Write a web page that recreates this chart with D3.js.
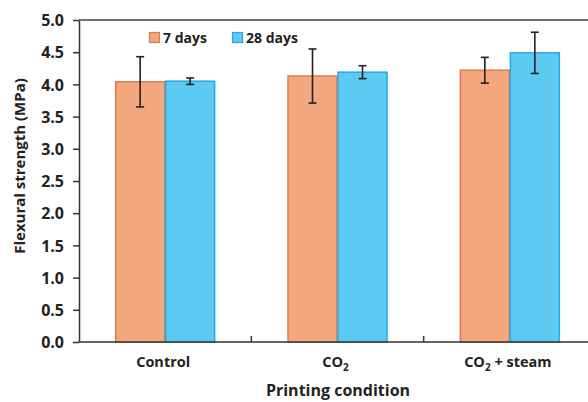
<!DOCTYPE html>
<html>
<head>
<meta charset="utf-8">
<script src="https://cdn.jsdelivr.net/npm/d3@7"></script>
<style>
  body { margin: 0; background: #fff; }
  svg { display: block; }
</style>
</head>
<body>
<svg id="chart" width="588" height="402"></svg>
<script>
// data
const categories = ["Control", "CO2", "CO2 + steam"];
const seriesNames = ["7 days", "28 days"];
const mean7 = [4.04, 4.13, 4.22];
const err7 = [0.39, 0.42, 0.20];
const mean28 = [4.05, 4.19, 4.49];
const err28 = [0.05, 0.10, 0.32];
const yTicks = [0, 0.5, 1, 1.5, 2, 2.5, 3, 3.5, 4, 4.5, 5];

const fills = ["#f3a880", "#5ccaf2"];
const strokes = ["#e07a4c", "#27a9e1"];
const font = "'Open Sans', 'Noto Sans', sans-serif";

const svg = d3.select("#chart");
const margin = { left: 79, top: 20, right: -8, bottom: 60 };
const W = 588, H = 402;

const x = d3.scaleBand()
  .domain(categories)
  .range([margin.left, W - margin.right])
  .paddingInner(0).paddingOuter(0);

const x1 = d3.scaleBand()
  .domain(seriesNames)
  .range([0, 100]);

const y = d3.scaleLinear()
  .domain([0, 5])
  .range([H - margin.bottom, margin.top]);

const rows = categories.map((c, i) => ({
  cat: c,
  vals: [
    { s: 0, name: seriesNames[0], v: mean7[i], e: err7[i] },
    { s: 1, name: seriesNames[1], v: mean28[i], e: err28[i] }
  ]
}));

// bars
const groups = svg.append("g")
  .selectAll("g")
  .data(rows)
  .join("g")
  .attr("transform", d => `translate(${x(d.cat) + (x.bandwidth() - 100) / 2}, 0)`);

groups.selectAll("rect")
  .data(d => d.vals)
  .join("rect")
  .attr("x", d => x1(d.name) + 0.5)
  .attr("y", d => y(d.v))
  .attr("width", x1.bandwidth() - 1)
  .attr("height", d => y(0) - y(d.v))
  .attr("fill", d => fills[d.s])
  .attr("stroke", d => strokes[d.s])
  .attr("stroke-width", 1.5);

// error bars
const eb = groups.selectAll("g.err")
  .data(d => d.vals)
  .join("g")
  .attr("class", "err")
  .attr("stroke", "#222")
  .attr("stroke-width", 1.6);

eb.append("line")
  .attr("x1", d => x1(d.name) + x1.bandwidth() / 2)
  .attr("x2", d => x1(d.name) + x1.bandwidth() / 2)
  .attr("y1", d => y(d.v + d.e))
  .attr("y2", d => y(d.v - d.e));
eb.append("line")
  .attr("x1", d => x1(d.name) + x1.bandwidth() / 2 - 4)
  .attr("x2", d => x1(d.name) + x1.bandwidth() / 2 + 4)
  .attr("y1", d => y(d.v + d.e))
  .attr("y2", d => y(d.v + d.e));
eb.append("line")
  .attr("x1", d => x1(d.name) + x1.bandwidth() / 2 - 4)
  .attr("x2", d => x1(d.name) + x1.bandwidth() / 2 + 4)
  .attr("y1", d => y(d.v - d.e))
  .attr("y2", d => y(d.v - d.e));

// y axis
const yAxis = svg.append("g")
  .attr("transform", `translate(${margin.left},0)`)
  .call(d3.axisLeft(y).tickValues(yTicks).tickFormat(d3.format(".1f")).tickSize(6).tickSizeOuter(0));
yAxis.select(".domain").attr("stroke", "#333").attr("stroke-width", 1.5);
yAxis.selectAll(".tick line").attr("stroke", "#333").attr("stroke-width", 1.5);
yAxis.selectAll(".tick text")
  .attr("x", -15)
  .attr("dy", "0.36em")
  .style("font-family", font)
  .style("font-weight", "bold")
  .style("font-size", "16px")
  .attr("fill", "#222");

// x axis baseline, top frame line, ticks between categories
svg.append("line")
  .attr("x1", margin.left).attr("x2", W)
  .attr("y1", y(0)).attr("y2", y(0))
  .attr("stroke", "#333").attr("stroke-width", 1.5);
svg.append("line")
  .attr("x1", margin.left).attr("x2", W)
  .attr("y1", y(5)).attr("y2", y(5))
  .attr("stroke", "#444").attr("stroke-width", 1.5);

svg.append("g")
  .selectAll("line")
  .data(categories.slice(1))
  .join("line")
  .attr("x1", d => x(d)).attr("x2", d => x(d))
  .attr("y1", y(0)).attr("y2", y(0) - 6)
  .attr("stroke", "#333").attr("stroke-width", 1.5);

// category labels with subscript
const catLabels = svg.append("g")
  .selectAll("text")
  .data(categories)
  .join("text")
  .attr("x", d => x(d) + x.bandwidth() / 2 - 2)
  .attr("y", y(0) + 25)
  .attr("text-anchor", "middle")
  .style("font-family", font)
  .style("font-weight", "bold")
  .style("font-size", "14.5px")
  .attr("fill", "#222");

catLabels.each(function(d) {
  const t = d3.select(this);
  const m = d.match(/^CO2(.*)$/);
  if (!m) { t.text(d); return; }
  t.append("tspan").text("CO");
  t.append("tspan").text("2").attr("font-size", "10px").attr("dy", 4);
  if (m[1]) t.append("tspan").text(m[1]).attr("dy", -4);
});

// axis titles
svg.append("text")
  .attr("transform", `translate(25, ${(y(0) + y(5)) / 2 - 15}) rotate(-90)`)
  .attr("text-anchor", "middle")
  .style("font-family", font)
  .style("font-weight", "bold")
  .style("font-size", "15px")
  .attr("fill", "#222")
  .text("Flexural strength (MPa)");

svg.append("text")
  .attr("x", 338)
  .attr("y", 396)
  .attr("text-anchor", "middle")
  .style("font-family", font)
  .style("font-weight", "bold")
  .style("font-size", "16px")
  .attr("fill", "#222")
  .text("Printing condition");

// legend
const legend = svg.append("g").attr("transform", "translate(149, 32)");
const legendX = [0, 83];
legend.selectAll("g")
  .data(seriesNames)
  .join("g")
  .attr("transform", (d, i) => `translate(${legendX[i]}, 0)`)
  .each(function(d, i) {
    const g = d3.select(this);
    g.append("rect")
      .attr("x", 0.5).attr("y", 0.5)
      .attr("width", 10).attr("height", 10)
      .attr("fill", fills[i]).attr("stroke", strokes[i]).attr("stroke-width", 1.2);
    g.append("text")
      .attr("x", 14).attr("y", 11)
      .style("font-family", font)
      .style("font-weight", "bold")
      .style("font-size", "14px")
      .attr("fill", "#222")
      .text(d);
  });
</script>
</body>
</html>
